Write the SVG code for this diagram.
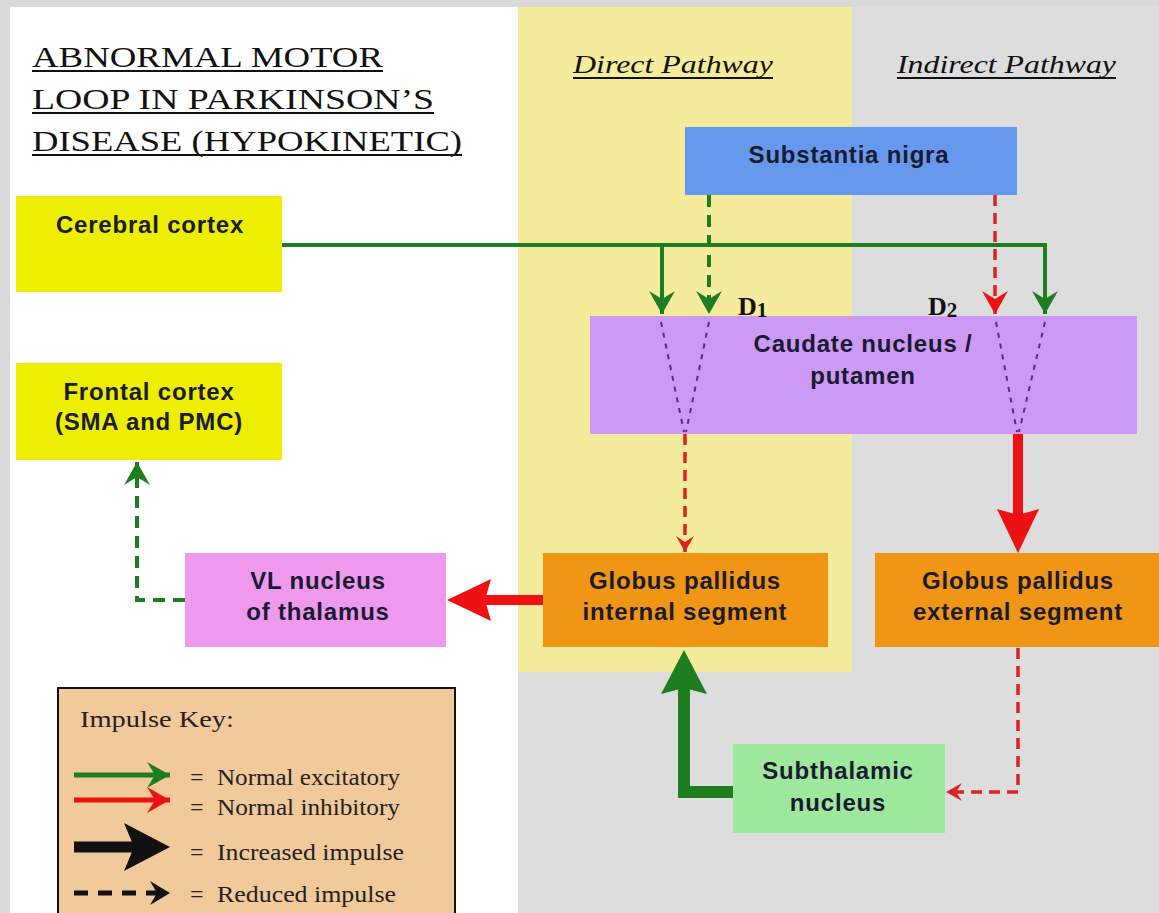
<svg xmlns="http://www.w3.org/2000/svg" width="1159" height="913" viewBox="0 0 1159 913">
  <style>
    .title { font-family: "Liberation Serif", "Times New Roman", serif; font-size: 30px; fill: #111; }
    .path-head { font-family: "Liberation Serif", "Times New Roman", serif; font-size: 26px; font-style: italic; fill: #111; }
    .lbl { font-family: "Liberation Sans", Arial, sans-serif; font-size: 24px; font-weight: bold; letter-spacing: 0.8px; fill: #1a1a30; text-anchor: middle; }
    .rcpt { font-family: "Liberation Serif", "Times New Roman", serif; font-size: 26px; font-weight: bold; fill: #111; }
    .key { font-family: "Liberation Serif", "Times New Roman", serif; font-size: 24px; fill: #222; }
    .uline { stroke: #111; stroke-width: 2; }
    .exc { fill: none; stroke: #1e7d1e; stroke-width: 4; }
    .exc-thick { fill: none; stroke: #1e7d1e; stroke-width: 12; }
    .inh-thick { fill: none; stroke: #ee1111; stroke-width: 10; }
    .exc-dash { fill: none; stroke: #1e7d1e; stroke-width: 4; stroke-dasharray: 12 8; }
    .inh-dash { fill: none; stroke: #dd2222; stroke-width: 3.5; stroke-dasharray: 11 7; }
    .spread { fill: none; stroke: #5a2a88; stroke-width: 2; stroke-dasharray: 5 6; }
  </style>
  <defs>
    <marker id="hg" markerUnits="userSpaceOnUse" orient="auto" refX="0" refY="0" overflow="visible">
      <path d="M0,0 L-23,-13 L-15,0 L-23,13 Z" fill="#1e7d1e"/>
    </marker>
    <marker id="hr" markerUnits="userSpaceOnUse" orient="auto" refX="0" refY="0" overflow="visible">
      <path d="M0,0 L-23,-13 L-15,0 L-23,13 Z" fill="#ee1111"/>
    </marker>
    <marker id="hr-s" markerUnits="userSpaceOnUse" orient="auto" refX="0" refY="0" overflow="visible">
      <path d="M0,0 L-16,-9 L-10,0 L-16,9 Z" fill="#dd2222"/>
    </marker>
    <marker id="hg-big" markerUnits="userSpaceOnUse" orient="auto" refX="0" refY="0" overflow="visible">
      <path d="M20,0 L-24,-23 L-18,0 L-24,23 Z" fill="#1e7d1e"/>
    </marker>
    <marker id="hr-big" markerUnits="userSpaceOnUse" orient="auto" refX="0" refY="0" overflow="visible">
      <path d="M20,0 L-24,-21 L-18,0 L-24,21 Z" fill="#ee1111"/>
    </marker>
    <marker id="hk-big" markerUnits="userSpaceOnUse" orient="auto" refX="0" refY="0" overflow="visible">
      <path d="M20,0 L-26,-24 L-16,0 L-26,24 Z" fill="#111"/>
    </marker>
    <marker id="hk" markerUnits="userSpaceOnUse" orient="auto" refX="0" refY="0" overflow="visible">
      <path d="M0,0 L-20,-12 L-13,0 L-20,12 Z" fill="#111"/>
    </marker>
  </defs>

  <!-- page and pathway columns -->
  <rect x="0" y="0" width="1159" height="913" fill="#d9d9d9"/>
  <rect x="10" y="7" width="508" height="906" fill="#ffffff"/>
  <rect x="518" y="7" width="334" height="665" fill="#f4ec9c"/>
  <rect x="852" y="7" width="307" height="906" fill="#dddddd"/>
  <rect x="518" y="672" width="334" height="241" fill="#dddddd"/>

  <!-- heading -->
  <g id="heading">
    <text class="title" x="32" y="67" textLength="351" lengthAdjust="spacingAndGlyphs">ABNORMAL MOTOR</text>
    <text class="title" x="32" y="109" textLength="402" lengthAdjust="spacingAndGlyphs">LOOP IN PARKINSON’S</text>
    <text class="title" x="32" y="151" textLength="430" lengthAdjust="spacingAndGlyphs">DISEASE (HYPOKINETIC)</text>
    <line class="uline" x1="32" y1="71" x2="383" y2="71"/>
    <line class="uline" x1="32" y1="113" x2="434" y2="113"/>
    <line class="uline" x1="32" y1="155" x2="462" y2="155"/>
  </g>
  <g id="direct-heading">
    <text class="path-head" x="573" y="73" textLength="200" lengthAdjust="spacingAndGlyphs">Direct Pathway</text>
    <line class="uline" x1="573" y1="78" x2="773" y2="78"/>
  </g>
  <g id="indirect-heading">
    <text class="path-head" x="897" y="73" textLength="219" lengthAdjust="spacingAndGlyphs">Indirect Pathway</text>
    <line class="uline" x1="897" y1="78" x2="1116" y2="78"/>
  </g>

  <!-- nodes -->
  <g id="substantia-nigra">
    <rect x="685" y="127" width="332" height="68" fill="#6699ee"/>
    <text class="lbl" x="849" y="163">Substantia nigra</text>
  </g>
  <g id="cerebral-cortex">
    <rect x="16" y="196" width="266" height="96" fill="#eeee00"/>
    <text class="lbl" x="150" y="233">Cerebral cortex</text>
  </g>
  <g id="frontal-cortex">
    <rect x="16" y="363" width="266" height="97" fill="#eeee00"/>
    <text class="lbl" x="149" y="400">Frontal cortex</text>
    <text class="lbl" x="149" y="430">(SMA and PMC)</text>
  </g>
  <g id="caudate-putamen">
    <rect x="590" y="316" width="547" height="118" fill="#cc99f5"/>
    <text class="lbl" x="863" y="352">Caudate nucleus /</text>
    <text class="lbl" x="863" y="384">putamen</text>
  </g>
  <g id="receptor-d1">
    <text class="rcpt" x="738" y="315">D<tspan font-size="21" dy="2">1</tspan></text>
  </g>
  <g id="receptor-d2">
    <text class="rcpt" x="928" y="315">D<tspan font-size="21" dy="2">2</tspan></text>
  </g>
  <g id="gp-internal">
    <rect x="543" y="553" width="285" height="94" fill="#f09514"/>
    <text class="lbl" x="685" y="589">Globus pallidus</text>
    <text class="lbl" x="685" y="620">internal segment</text>
  </g>
  <g id="gp-external">
    <rect x="875" y="553" width="284" height="94" fill="#f09514"/>
    <text class="lbl" x="1018" y="589">Globus pallidus</text>
    <text class="lbl" x="1018" y="620">external segment</text>
  </g>
  <g id="vl-thalamus">
    <rect x="185" y="553" width="261" height="94" fill="#ee99ee"/>
    <text class="lbl" x="318" y="589">VL nucleus</text>
    <text class="lbl" x="318" y="620">of thalamus</text>
  </g>
  <g id="subthalamic">
    <rect x="733" y="744" width="212" height="89" fill="#9ee89e"/>
    <text class="lbl" x="838" y="779">Subthalamic</text>
    <text class="lbl" x="838" y="811">nucleus</text>
  </g>

  <!-- connectors -->
  <g id="connectors">
    <path class="exc" d="M282,245 H1045 V314" marker-end="url(#hg)"/>
    <path class="exc" d="M662,245 V314" marker-end="url(#hg)"/>
    <path class="exc-dash" d="M709,195 V314" marker-end="url(#hg)"/>
    <path class="inh-dash" d="M995,195 V314" marker-end="url(#hr)"/>
    <path class="spread" d="M661,322 L684,432"/>
    <path class="spread" d="M709,322 L686,432"/>
    <path class="spread" d="M996,322 L1017,432"/>
    <path class="spread" d="M1045,322 L1019,432"/>
    <path class="inh-dash" d="M685,434 V552" marker-end="url(#hr-s)"/>
    <path class="inh-thick" d="M1018,434 V533" marker-end="url(#hr-big)"/>
    <path class="inh-thick" d="M543,600 H467" marker-end="url(#hr-big)"/>
    <path class="exc-thick" d="M733,792 H684 V670" marker-end="url(#hg-big)"/>
    <path class="inh-dash" d="M1018,648 V792 H946" marker-end="url(#hr-s)"/>
    <path class="exc-dash" d="M185,600 H137 V462" marker-end="url(#hg)"/>
  </g>

  <!-- key -->
  <g id="impulse-key">
    <rect x="58" y="688" width="397" height="240" fill="#f2c99a" stroke="#111" stroke-width="2"/>
    <text class="key" x="80" y="727" font-size="27" textLength="154" lengthAdjust="spacingAndGlyphs">Impulse Key:</text>
    <path d="M74,775 H170" stroke="#1e7d1e" stroke-width="5" marker-end="url(#hg)"/>
    <path d="M74,800 H170" stroke="#ee1111" stroke-width="5" marker-end="url(#hr)"/>
    <path d="M74,847 H150" stroke="#111" stroke-width="11" marker-end="url(#hk-big)"/>
    <path d="M74,893 H170" stroke="#111" stroke-width="5" stroke-dasharray="14 10" marker-end="url(#hk)"/>
    <text class="key" x="190" y="785">=</text>
    <text class="key" x="217" y="785" textLength="183" lengthAdjust="spacingAndGlyphs">Normal excitatory</text>
    <text class="key" x="190" y="815">=</text>
    <text class="key" x="217" y="815" textLength="183" lengthAdjust="spacingAndGlyphs">Normal inhibitory</text>
    <text class="key" x="190" y="860">=</text>
    <text class="key" x="217" y="860" textLength="187" lengthAdjust="spacingAndGlyphs">Increased impulse</text>
    <text class="key" x="190" y="902">=</text>
    <text class="key" x="217" y="902" textLength="179" lengthAdjust="spacingAndGlyphs">Reduced impulse</text>
  </g>
</svg>
